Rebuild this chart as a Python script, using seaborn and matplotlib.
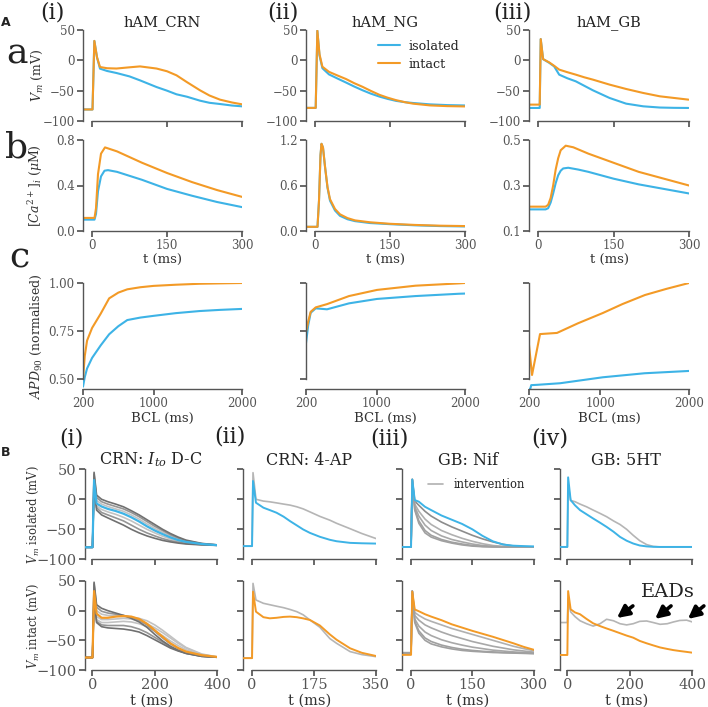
import numpy as np
import pandas as pd
import matplotlib
matplotlib.use("Agg")
import matplotlib.pyplot as plt
import seaborn as sns

# ---------------- DATA ----------------
BLUE = "#3db3e6"
ORANGE = "#f39a26"

# Panel A row a: membrane potential (mV)
t_crn_a = [-18, 1, 4.7, 10, 16, 30, 49, 75, 96, 129, 150, 169, 190, 216, 235, 256, 280, 300]
v_crn_iso = [-81, -81, 32, 5, -13.7, -17.5, -20.9, -26.5, -33, -44, -50, -56, -60, -66.5, -70, -72, -74.5, -75.8]
v_crn_int = [-81, -81, 32, 5, -11, -13, -13.5, -11.5, -10, -13.5, -18, -24.7, -36, -49.4, -58, -64.8, -69.5, -72.5]

t_ng_a = [-18, 1.4, 4.7, 9, 14.8, 28, 45, 62, 78, 95, 112, 129, 145, 162, 180, 196, 230, 265, 300]
v_ng_iso = [-78.4, -78.4, 48.8, 8, -13, -23.2, -30, -36.6, -43, -49.3, -55, -59.8, -63.5, -66.8, -69, -70.3, -72.6, -73.8, -74.4]
v_ng_int = [-78.4, -78.4, 48.8, 10, -10.5, -19, -25, -30.8, -37.5, -43.6, -50.5, -56.9, -61.5, -65.6, -69, -71.4, -74.3, -75.5, -76]

t_gb_a = [-18, 3.3, 5.3, 10, 22, 32, 42, 58, 75, 92, 109, 142, 175, 209, 242, 270, 299]
v_gb_iso = [-78.5, -78.5, 35, 2, -4, -10, -23.6, -29.5, -34.6, -42, -49.4, -62, -71.4, -75.8, -77.8, -78.3, -78.5]
v_gb_int = [-73, -73, 35, 2, -3.3, -9, -15.3, -19.5, -23.6, -28, -31.8, -40, -47.2, -53.8, -59.3, -62, -64.8]

# Panel A row b: calcium transient (uM)
t_crn_b = [-18, 5, 8, 12, 18, 26, 50, 100, 150, 200, 250, 300]
c_crn_int = [0.115, 0.115, 0.2, 0.5, 0.68, 0.735, 0.70, 0.60, 0.51, 0.43, 0.36, 0.30]
t_crn_b2 = [-18, 5, 8, 12, 18, 25, 32, 50, 100, 150, 200, 250, 300]
c_crn_iso = [0.10, 0.10, 0.15, 0.35, 0.48, 0.53, 0.535, 0.52, 0.45, 0.37, 0.31, 0.255, 0.21]

t_ng_b = [-18, 5, 8, 11, 13, 16, 20, 25, 30, 40, 50, 65, 80, 110, 150, 200, 250, 300]
c_ng_int = [0.055, 0.055, 0.4, 1.0, 1.15, 1.1, 0.85, 0.58, 0.42, 0.29, 0.22, 0.17, 0.14, 0.115, 0.095, 0.08, 0.07, 0.065]
c_ng_iso = [0.055, 0.055, 0.4, 1.0, 1.15, 1.1, 0.85, 0.57, 0.40, 0.27, 0.20, 0.155, 0.13, 0.105, 0.09, 0.075, 0.065, 0.06]

t_gb_b = [-18, 15, 20, 25, 30, 35, 40, 45, 55, 70, 100, 150, 200, 250, 300]
c_gb_int = [0.207, 0.207, 0.215, 0.245, 0.30, 0.37, 0.42, 0.455, 0.475, 0.468, 0.44, 0.40, 0.36, 0.33, 0.30]
t_gb_b2 = [-18, 15, 20, 25, 30, 35, 40, 45, 50, 60, 80, 100, 150, 200, 250, 300]
c_gb_iso = [0.195, 0.195, 0.20, 0.225, 0.265, 0.31, 0.345, 0.365, 0.375, 0.378, 0.37, 0.36, 0.33, 0.305, 0.285, 0.265]

# Panel A row c: APD90 restitution (normalised)
bcl_crn = [200, 220, 246, 303, 400, 496, 600, 701, 850, 1000, 1250, 1521, 1750, 2000]
apd_crn_int = [0.50, 0.62, 0.70, 0.766, 0.84, 0.92, 0.95, 0.967, 0.978, 0.985, 0.991, 0.996, 0.998, 1.0]
apd_crn_iso = [0.46, 0.51, 0.555, 0.61, 0.675, 0.733, 0.775, 0.807, 0.82, 0.829, 0.843, 0.854, 0.86, 0.865]

bcl_ng = [200, 225, 253, 310, 438, 687, 1004, 1440, 1932, 2000]
apd_ng_int = [0.745, 0.80, 0.85, 0.873, 0.89, 0.932, 0.964, 0.986, 0.998, 1.0]
apd_ng_iso = [0.687, 0.78, 0.845, 0.868, 0.863, 0.894, 0.917, 0.932, 0.944, 0.945]

bcl_gb_int = [200, 234, 324, 515, 750, 1032, 1250, 1505, 1750, 2000]
apd_gb_int = [0.677, 0.521, 0.734, 0.74, 0.79, 0.844, 0.89, 0.9375, 0.97, 1.0]
bcl_gb_iso = [200, 215, 225, 300, 550, 1030, 1500, 2000]
apd_gb_iso = [0.447, 0.45, 0.468, 0.47, 0.478, 0.509, 0.53, 0.542]

# Panel B(i): CRN Ito dose-change
tB1 = [-23, 1, 6, 14, 30, 50, 75, 100, 125, 150, 175, 200, 225, 250, 275, 300, 350, 400]
b1_iso = [-80, -80, 32, -7, -12, -16, -19.5, -24, -30, -37, -45, -52, -58, -63.5, -68, -71, -74.5, -76.5]
b1_iso_u3 = [-80, -80, 45, 7, 0, -4, -8, -12.5, -19, -26, -34, -42, -50, -57, -63, -68, -73.5, -76]
b1_iso_u2 = [-80, -80, 42, 3, -4, -8, -12, -16, -22, -29, -37, -45, -52, -59, -64.5, -69, -74, -76]
b1_iso_u1 = [-80, -80, 38, -2, -8, -12, -16, -20, -26, -33, -41, -48.5, -55, -61, -66, -70, -74, -76.3]
b1_iso_l1 = [-80, -80, 28, -11, -17, -21, -25, -30, -36, -43, -50, -56, -61.5, -66, -69.5, -72, -75, -76.6]
b1_iso_l2 = [-80, -80, 24, -14, -22, -26, -31, -36, -43, -50, -56, -61, -65.5, -69, -71.5, -73.5, -75.5, -76.7]
b1_iso_l3 = [-80, -80, 20, -18, -26, -31, -37, -43, -50, -56, -61, -65, -68.5, -71, -73, -74.5, -76, -76.8]

b1_int = [-79, -79, 33, -5, -12, -12, -10, -9, -10, -14, -22, -33, -44, -55, -63, -69, -75, -78]
b1_int_g1 = [-79, -79, 48, 10, 4, 0, -4, -8, -13, -19, -28, -40, -51, -60, -67, -72, -77, -78.5]
b1_int_g2 = [-79, -79, 45, 6, -1, -4, -6, -8, -11, -16, -24, -35, -46, -56, -64, -70, -76.5, -78.5]
b1_int_g3 = [-79, -79, 40, 0, -6, -8, -9, -10, -11, -13, -17, -24, -33, -43, -53, -62, -73, -78]
b1_int_g4 = [-79, -79, 30, -10, -15, -15, -14, -13, -14, -17, -22, -29, -37, -46, -55, -63, -74, -78]
b1_int_g5 = [-79, -79, 25, -15, -20, -20, -19, -18, -19, -22, -27, -34, -42, -51, -59, -66, -75, -78.3]
b1_int_g6 = [-79, -79, 22, -18, -24, -25, -25, -25, -27, -31, -37, -45, -53, -61, -67, -71.5, -76.5, -78.5]
b1_int_g7 = [-79, -79, 20, -20, -27, -29, -30, -31, -33, -36, -42, -49, -56, -63, -68, -72, -77, -78.6]

# Panel B(ii): CRN 4-AP
tB2 = [-25, 1, 3.7, 12, 33, 51, 70, 90, 108, 127, 145, 164, 192, 220, 239, 277, 310, 350]
b2_iso = [-78, -78, 30.5, -5.7, -14, -18, -22.4, -29, -36.4, -43.5, -50.3, -56, -62.5, -67.5, -69.9, -72.6, -73.3, -73.8]
b2_iso_4ap = [-78, -78, 44.4, 0, -3, -4.2, -6, -8, -9.7, -12.5, -16, -21, -28.5, -34.8, -40, -49, -57, -65.4]
b2_int = [-80, -80, 32, -1.7, -11, -12.9, -12, -10.5, -10, -11, -13, -15.7, -25, -40, -49, -63.4, -71, -76.4]
b2_int_4ap = [-80, -80, 46, 18, 12.4, 10, 7.5, 5, 2, -1.7, -7, -15.7, -28, -47, -55, -69, -74, -77.5]

# Panel B(iii): GB nifedipine
tB3 = [-21, 1, 4, 10, 20, 35, 50, 75, 100, 125, 150, 175, 200, 225, 250, 275, 300]
b3_iso = [-79.5, -79.5, 33, -1.3, -4, -12.5, -18, -27, -34, -41, -50, -61, -70, -75.4, -77.3, -78, -78.5]
b3_iso_n1 = [-79.5, -79.5, 33, -3, -10, -20, -28, -38, -46, -53, -60, -66, -71, -75, -78, -79, -79.5]
b3_iso_n2 = [-79.5, -79.5, 33, -8, -20, -33, -42, -52, -59, -65, -70, -74, -77, -78.5, -79, -79.5, -79.5]
b3_iso_n3 = [-79.5, -79.5, 33, -12, -28, -43, -52, -61, -67, -71, -74.5, -77, -78.5, -79, -79.5, -79.5, -79.5]
b3_iso_n4 = [-79.5, -79.5, 33, -16, -36, -52, -60, -67, -71.5, -74.5, -77, -78.5, -79, -79.5, -79.5, -79.5, -79.5]
b3_iso_n5 = [-79.5, -79.5, 33, -18, -40, -56, -63, -69, -73, -76, -78, -79, -79.5, -79.5, -79.5, -79.5, -79.5]

b3_int = [-74.5, -74.5, 32, 2, -1, -6, -10, -16, -23, -28.5, -34, -39, -44, -49.5, -55, -61, -66]
b3_int_m1 = [-71, -71, 33, -3, -8, -14, -18, -24, -30, -35, -40, -45, -50, -55, -60, -64, -67.5]
b3_int_m2 = [-71, -71, 33, -8, -16, -24, -29, -36, -42, -47, -52, -56, -60, -63, -66, -68, -70]
b3_int_m3 = [-71, -71, 33, -14, -26, -36, -42, -49, -54, -58, -61.5, -64, -66.5, -68, -69.5, -70.5, -71]
b3_int_m4 = [-71, -71, 33, -18, -34, -46, -52, -58, -62, -65, -67, -68.5, -69.5, -70.5, -71, -71.5, -72]
b3_int_m5 = [-71, -71, 33, -20, -38, -50, -56, -61, -64.5, -67, -68.5, -69.5, -70.5, -71, -71.5, -72, -72.5]

# Panel B(iv): GB 5HT
tB4 = [-23, 0.5, 3, 11, 25, 41, 62, 83, 105, 126, 148, 169, 190, 211, 232, 254, 275, 297, 320, 340, 360, 382, 400]
b4_iso = [-79.4, -79.4, 36.6, -1.3, -10, -18, -25, -32, -39, -46, -54, -62.7, -69, -73.7, -77, -78.5, -79.2, -79.4, -79.4, -79.4, -79.4, -79.4, -79.4]
b4_iso_5ht = [-79.4, -79.4, 25, -2, -4, -8, -12.5, -18, -23.5, -29, -36, -42, -50, -60, -69, -75.5, -78.5, -79.4, -79.4, -79.4, -79.4, -79.4, -79.4]
b4_int = [-74.7, -74.7, 33, 2.3, -3, -6, -14, -21.3, -26, -30, -34, -38, -42, -45.5, -51, -55, -58.5, -62, -64.5, -66.5, -68, -69.5, -70.8]
b4_int_5ht = [-20, -20, 20, -2, -10, -17, -22, -26, -22, -14.5, -17, -22, -24, -22, -18, -17.4, -20, -23, -22, -19, -16.5, -16, -19]

# ---------------- STYLE ----------------
sns.set_theme(style="ticks", rc={
    "axes.edgecolor": "#555555",
    "xtick.color": "#555555",
    "ytick.color": "#555555",
    "text.color": "#222222",
    "axes.labelcolor": "#333333",
    "xtick.major.size": 4,
    "ytick.major.size": 4,
    "axes.linewidth": 1.0,
})
plt.rcParams["font.family"] = ["DejaVu Serif"]
plt.rcParams["mathtext.fontset"] = "dejavuserif"

W, H = 708, 707
fig = plt.figure(figsize=(W / 100, H / 100), dpi=100)


def px_axes(left, top, right, bottom):
    return fig.add_axes([left / W, 1 - bottom / H, (right - left) / W, (bottom - top) / H])


def line(ax, x, y, color, lw=1.5, label=None, z=2):
    sns.lineplot(x=x, y=y, ax=ax, color=color, lw=lw, label=label,
                 estimator=None, sort=False, zorder=z, legend=False)


def style_axes(ax, xlim, ylim, xticks, yticks, xb, yb, fs, show_x=True, show_y=True):
    ax.set_xlim(*xlim)
    ax.set_ylim(*ylim)
    ax.set_xticks(xticks)
    ax.set_yticks(yticks)
    ax.spines["right"].set_visible(False)
    ax.spines["top"].set_visible(False)
    ax.spines["bottom"].set_bounds(*xb)
    ax.spines["left"].set_bounds(*yb)
    ax.tick_params(labelsize=fs, labelbottom=show_x, labelleft=show_y, pad=2)


def place_ylabel(ax, l, r, xpx):
    ax.yaxis.set_label_coords((xpx - l) / (r - l), 0.5)


# ---------------- PANEL A ----------------
colsA = [(83, 242), (306, 465), (529, 689)]
fsA = 8.5
a_data = [
    (t_crn_a, v_crn_iso, v_crn_int, "hAM_CRN"),
    (t_ng_a, v_ng_iso, v_ng_int, "hAM_NG"),
    (t_gb_a, v_gb_iso, v_gb_int, "hAM_GB"),
]
b_data = [
    (t_crn_b2, c_crn_iso, t_crn_b, c_crn_int, (0, 0.8), [0.0, 0.4, 0.8]),
    (t_ng_b, c_ng_iso, t_ng_b, c_ng_int, (0, 1.2), [0.0, 0.6, 1.2]),
    (t_gb_b2, c_gb_iso, t_gb_b, c_gb_int, (0.1, 0.5), [0.1, 0.3, 0.5]),
]
c_data = [
    (bcl_crn, apd_crn_iso, bcl_crn, apd_crn_int),
    (bcl_ng, apd_ng_iso, bcl_ng, apd_ng_int),
    (bcl_gb_iso, apd_gb_iso, bcl_gb_int, apd_gb_int),
]

for i, (l, r) in enumerate(colsA):
    # row a
    t, viso, vint, title = a_data[i]
    ax = px_axes(l, 30, r, 121)
    line(ax, t, viso, BLUE, label="isolated")
    line(ax, t, vint, ORANGE, label="intact")
    style_axes(ax, (-18, 300), (-100, 50), [0, 150, 300], [-100, -50, 0, 50],
               (0, 300), (-100, 50), fsA, show_x=False)
    ax.set_title(title, fontsize=10.5, pad=2)
    if i == 0:
        ax.set_ylabel("$V_m$ (mV)", fontsize=9)
        place_ylabel(ax, l, r, 45)
    if i == 1:
        ax.legend(loc="upper left", bbox_to_anchor=(0.38, 1.02), frameon=False,
                  fontsize=9.2, handlelength=1.7, labelspacing=0.4, handletextpad=0.7)
    # row b
    tiso, ciso, tint, cint, ylim, yt = b_data[i]
    ax = px_axes(l, 140, r, 231)
    line(ax, tiso, ciso, BLUE)
    line(ax, tint, cint, ORANGE)
    style_axes(ax, (-18, 300), ylim, [0, 150, 300], yt, (0, 300), ylim, fsA)
    ax.set_xlabel("t (ms)", fontsize=9.5, labelpad=1)
    if i == 0:
        ax.set_ylabel("$[Ca^{2+}]_i$ ($\\mu$M)", fontsize=9)
        place_ylabel(ax, l, r, 45)
    # row c
    biso, aiso, bint, aint = c_data[i]
    ax = px_axes(l, 283, r, 389)
    line(ax, biso, aiso, BLUE)
    line(ax, bint, aint, ORANGE)
    style_axes(ax, (200, 2000), (0.448, 1.0), [200, 1000, 2000], [0.5, 0.75, 1.0],
               (200, 2000), (0.5, 1.0), fsA, show_y=(i == 0))
    ax.set_xlabel("BCL (ms)", fontsize=9.5, labelpad=1)
    if i == 0:
        ax.set_ylabel("$APD_{90}$ (normalised)", fontsize=9)
        place_ylabel(ax, l, r, 44)

# ---------------- PANEL B ----------------
fsB = 10.5
colsB = [(85, 217.3, (-23, 400), [0, 200, 400]),
         (243, 376, (-24.5, 350), [0, 175, 350]),
         (402, 534, (-21, 300), [0, 150, 300]),
         (560, 692.3, (-23, 400), [0, 200, 400])]
titlesB = ["CRN: $I_{to}$ D-C", "CRN: 4-AP", "GB: Nif", "GB: 5HT"]

DARK, MID, LIGHT = "#707070", "#959595", "#c2c2c2"
GREY = "#b5b5b5"

axes_B = []
for j, (l, r, xl, xt) in enumerate(colsB):
    ax1 = px_axes(l, 469.3, r, 559.3)
    ax2 = px_axes(l, 581, r, 670)
    for ax, top in ((ax1, True), (ax2, False)):
        style_axes(ax, xl, (-100, 50), xt, [-100, -50, 0, 50], (0, xt[-1]), (-100, 50), fsB,
                   show_x=not top, show_y=(j == 0))
    ax1.set_title(titlesB[j], fontsize=11.5, pad=1)
    ax2.set_xlabel("t (ms)", fontsize=10.5, labelpad=1)
    if j == 0:
        ax1.set_ylabel("$V_m$ isolated (mV)", fontsize=8.3)
        ax2.set_ylabel("$V_m$ intact (mV)", fontsize=8.3)
        place_ylabel(ax1, l, r, 41)
        place_ylabel(ax2, l, r, 41)
    axes_B.append((ax1, ax2))

# B(i)
ax1, ax2 = axes_B[0]
for v, c in ((b1_iso_u1, LIGHT), (b1_iso_l1, LIGHT), (b1_iso_u2, MID), (b1_iso_l2, MID),
             (b1_iso_u3, DARK), (b1_iso_l3, DARK)):
    line(ax1, tB1, v, c, lw=1.2, z=1)
line(ax1, tB1, b1_iso, BLUE, lw=1.6, z=3)
for v, c in ((b1_int_g3, LIGHT), (b1_int_g4, LIGHT), (b1_int_g5, LIGHT), (b1_int_g2, MID),
             (b1_int_g6, MID), (b1_int_g1, DARK), (b1_int_g7, DARK)):
    line(ax2, tB1, v, c, lw=1.2, z=1)
line(ax2, tB1, b1_int, ORANGE, lw=1.6, z=3)

# B(ii)
ax1, ax2 = axes_B[1]
line(ax1, tB2, b2_iso_4ap, GREY, lw=1.2, z=1)
line(ax1, tB2, b2_iso, BLUE, lw=1.4, z=3)
line(ax2, tB2, b2_int_4ap, GREY, lw=1.2, z=1)
line(ax2, tB2, b2_int, ORANGE, lw=1.4, z=3)

# B(iii)
ax1, ax2 = axes_B[2]
for k, (v, c) in enumerate(((b3_iso_n1, "#8c8c8c"), (b3_iso_n2, "#b0b0b0"), (b3_iso_n3, "#a8a8a8"),
                            (b3_iso_n4, "#a0a0a0"), (b3_iso_n5, "#a0a0a0"))):
    line(ax1, tB3, v, c, lw=1.2, z=1, label="intervention" if k == 1 else None)
line(ax1, tB3, b3_iso, BLUE, lw=1.4, z=3)
for v, c in ((b3_int_m1, "#b0b0b0"), (b3_int_m2, "#a8a8a8"), (b3_int_m3, "#a8a8a8"),
             (b3_int_m4, "#a0a0a0"), (b3_int_m5, "#a0a0a0")):
    line(ax2, tB3, v, c, lw=1.2, z=1)
line(ax2, tB3, b3_int, ORANGE, lw=1.4, z=3)
ax1.legend(loc="upper left", bbox_to_anchor=(0.12, 1.02), frameon=False, fontsize=8.3,
           handlelength=1.3, handletextpad=0.9)

# B(iv)
ax1, ax2 = axes_B[3]
line(ax1, tB4, b4_iso_5ht, GREY, lw=1.2, z=1)
line(ax1, tB4, b4_iso, BLUE, lw=1.4, z=3)
line(ax2, tB4, b4_int_5ht, GREY, lw=1.2, z=1)
line(ax2, tB4, b4_int, ORANGE, lw=1.4, z=3)
ax2.text(322, 31, "EADs", fontsize=14, ha="center", va="center")
for (hx, hy), (tx, ty) in (((159, -12.4), (210, 8)), ((281, -14), (332, 8)), ((386, -14), (437, 8))):
    ax2.annotate("", xy=(hx, hy), xytext=(tx, ty), annotation_clip=False,
                 arrowprops=dict(arrowstyle="-|>", color="black", lw=2.6, mutation_scale=18,
                                 shrinkA=0, shrinkB=0))

# ---------------- LABELS ----------------
def ftext(x, y, s, **kw):
    fig.text(x / W, 1 - y / H, s, ha="center", va="center", **kw)

ftext(6, 22, "A", fontsize=9, fontweight="bold", family="DejaVu Sans")
ftext(6, 452, "B", fontsize=9, fontweight="bold", family="DejaVu Sans")
ftext(17, 53, "a", fontsize=26)
ftext(17, 147, "b", fontsize=26)
ftext(19, 258, "c", fontsize=26)
for x, y, s in ((52, 13, "(i)"), (283, 12, "(ii)"), (512, 12, "(iii)"),
                (71, 438, "(i)"), (230, 437, "(ii)"), (389, 438, "(iii)"), (550, 438, "(iv)")):
    ftext(x, y, s, fontsize=16)

fig.savefig("out.png", dpi=100)
